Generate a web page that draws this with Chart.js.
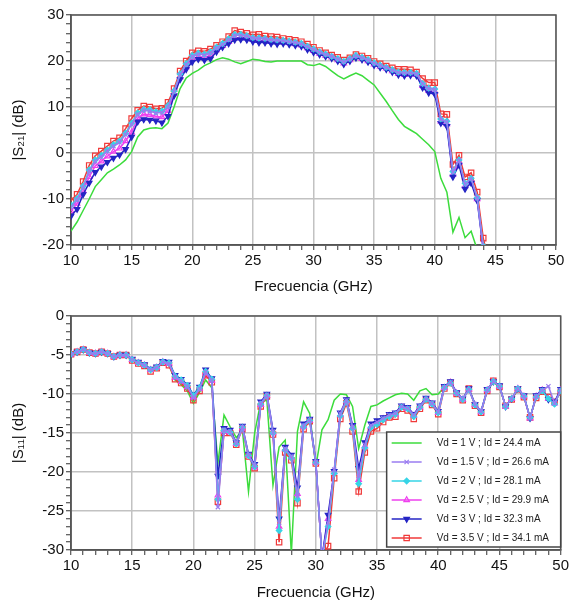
<!DOCTYPE html>
<html>
<head>
<meta charset="utf-8">
<script src="https://cdn.jsdelivr.net/npm/chart.js@4.4.0/dist/chart.umd.min.js"></script>
<style>
  body { margin: 0; background: #fff; }
  #wrap { position: relative; width: 571px; height: 606px; }
  #s21 { position: absolute; left: 0; top: 0; }
  #s11 { position: absolute; left: 0; top: 300px; }
</style>
</head>
<body>
<div id="wrap">
  <canvas id="s21" width="571" height="300"></canvas>
  <canvas id="s11" width="571" height="306"></canvas>
</div>
<script>
// --- datos |S21| (dB), 10 .. 44.5 GHz
const freqS21 = [10,10.5,11,11.5,12,12.5,13,13.5,14,14.5,15,15.5,16,16.5,17,17.5,18,18.5,19,19.5,
  20,20.5,21,21.5,22,22.5,23,23.5,24,24.5,25,25.5,26,26.5,27,27.5,28,28.5,29,29.5,
  30,30.5,31,31.5,32,32.5,33,33.5,34,34.5,35,35.5,36,36.5,37,37.5,38,38.5,39,39.5,
  40,40.5,41,41.5,42,42.5,43,43.5,44,44.5];

const s21_1V = [-17.0,-15.0,-12.5,-10.0,-7.3,-5.8,-4.3,-3.5,-2.6,-1.5,
  0.3,3.5,5.0,5.4,5.5,5.3,6.5,10.0,14.0,16.3,
  17.3,18.0,19.0,19.6,20.3,20.7,20.4,19.8,19.4,19.9,
  20.4,20.2,19.9,19.8,20.0,20.0,20.0,20.0,20.0,19.2,
  19.0,19.4,18.8,17.8,16.8,16.1,16.8,17.4,16.8,15.8,
  14.8,13.0,11.2,9.2,7.3,5.8,5.0,4.2,3.0,1.8,
  0.3,-5.5,-8.5,-17.2,-14.0,-18.4,-17.0,-21.0,-25,-28];
const s21_15V = [-11.8,-10.2,-7.5,-4.0,-1.8,-0.8,0.4,1.5,2.3,4.0,
  6.2,8.4,9.3,9.1,8.7,8.8,10.0,13.3,17.0,19.2,
  21.0,21.5,21.3,21.8,22.8,23.6,24.6,25.6,25.6,25.4,
  25.0,24.9,24.8,24.6,24.5,24.4,24.2,24.0,23.7,23.1,
  22.5,21.9,21.4,21.0,20.4,19.8,20.4,21.1,20.7,20.2,
  19.5,19.0,18.6,18.0,17.5,17.4,17.4,17.2,15.0,14.0,
  13.8,7.3,6.8,-4.2,-1.6,-6.8,-5.6,-9.8,-20.5,-25];
const s21_2V = [-11.4,-9.9,-7.2,-3.7,-1.5,-0.5,0.7,1.8,2.6,4.3,
  6.5,8.7,9.5,9.4,9.0,9.1,10.3,13.5,17.2,19.4,
  21.2,21.7,21.5,22.0,23.0,23.8,24.8,25.8,25.8,25.5,
  25.1,25.0,24.9,24.7,24.6,24.5,24.3,24.1,23.8,23.2,
  22.6,22.0,21.5,21.0,20.5,19.9,20.5,21.2,20.8,20.3,
  19.6,19.1,18.6,18.1,17.6,17.5,17.5,17.3,15.1,14.1,
  13.9,7.4,6.9,-4.0,-1.5,-6.6,-5.5,-9.7,-20.2,-25];
const s21_25V = [-12.6,-11.0,-8.2,-5.2,-2.8,-1.8,-0.7,0.3,1.0,2.6,
  4.5,7.6,8.4,8.3,8.0,7.8,9.2,12.9,16.5,18.7,
  20.4,21.0,20.8,21.2,22.4,23.3,24.2,25.0,25.1,25.0,
  24.6,24.4,24.4,24.2,24.1,24.1,23.9,23.7,23.4,22.8,
  22.2,21.6,21.2,20.8,20.2,19.5,20.2,20.9,20.5,20.0,
  19.3,18.8,18.4,17.8,17.2,17.0,17.1,17.0,14.6,13.5,
  13.3,6.9,6.3,-4.7,-2.0,-7.2,-6.0,-10.0,-20.8,-25.5];
const s21_3V = [-13.7,-12.2,-9.0,-6.5,-4.2,-3.0,-2.0,-1.1,-0.4,0.8,
  3.5,6.8,7.3,7.2,7.0,6.6,8.0,12.5,16.0,18.2,
  19.8,20.4,20.2,20.5,22.0,23.0,23.8,24.6,24.7,24.6,
  24.2,24.0,24.0,23.8,23.7,23.8,23.6,23.4,23.2,22.5,
  21.9,21.4,21.0,20.6,20.0,19.3,20.0,20.7,20.3,19.8,
  19.1,18.6,18.2,17.6,17.0,16.8,16.9,16.8,14.2,13.1,
  12.8,6.5,5.8,-5.2,-2.6,-7.8,-6.5,-10.3,-21.0,-26];
const s21_35V = [-10.4,-9.0,-6.2,-2.7,-0.6,0.4,1.5,2.6,3.3,5.3,
  7.5,9.3,10.2,10.0,9.6,9.7,11.0,14.0,17.8,20.0,
  21.8,22.2,22.1,22.6,23.4,24.2,25.3,26.6,26.3,26.0,
  25.7,25.8,25.4,25.3,25.2,24.9,24.7,24.5,24.2,23.7,
  23.0,22.3,21.8,21.3,20.8,20.2,20.7,21.4,21.1,20.6,
  19.9,19.4,18.9,18.5,18.2,18.2,18.1,17.6,16.2,15.3,
  15.3,8.5,8.4,-2.5,-0.5,-5.2,-4.3,-8.5,-18.5,-24];

// --- datos |S11| (dB), 10 .. 50 GHz
const freqS11 = [10,10.5,11,11.5,12,12.5,13,13.5,14,14.5,15,15.5,16,16.5,17,17.5,18,18.5,19,19.5,
  20,20.5,21,21.5,22,22.5,23,23.5,24,24.5,25,25.5,26,26.5,27,27.5,28,28.5,29,29.5,
  30,30.5,31,31.5,32,32.5,33,33.5,34,34.5,35,35.5,36,36.5,37,37.5,38,38.5,39,39.5,
  40,40.5,41,41.5,42,42.5,43,43.5,44,44.5,45,45.5,46,46.5,47,47.5,48,48.5,49,49.5,50];

const s11_1V = [-4.9,-4.6,-4.3,-4.7,-4.8,-4.6,-4.8,-5.2,-5.0,-5.0,
  -5.7,-6.1,-6.4,-7.0,-6.7,-6.0,-6.3,-8.2,-8.8,-9.6,
  -11.2,-9.8,-8.2,-9.2,-18.9,-12.7,-14.2,-15.6,-14.6,-22.5,
  -15.0,-11.0,-10.8,-21.7,-16.8,-15.9,-30.5,-14.8,-11.0,-12.5,
  -19.3,-14.6,-13.3,-10.8,-10.0,-10.1,-11.6,-17.0,-14.0,-11.6,
  -11.4,-10.9,-10.5,-10.1,-9.9,-10.0,-10.8,-9.6,-9.3,-10.1,
  -10.0,-9.1,-8.6,-9.9,-10.7,-9.3,-11.3,-12.2,-9.6,-8.5,
  -9.1,-11.5,-10.7,-9.4,-10.4,-13.0,-10.4,-9.6,-10.6,-11.1,
  -9.6];
const s11_15V = [-4.9,-4.6,-4.3,-4.7,-4.8,-4.6,-4.8,-5.2,-5.0,-5.0,
  -5.6,-6.0,-6.3,-6.9,-6.6,-5.9,-6.1,-7.8,-8.3,-9.0,
  -10.5,-9.4,-7.2,-8.2,-24.5,-14.6,-14.8,-16.3,-14.2,-17.8,
  -19.2,-11.2,-10.1,-14.8,-26.5,-17.0,-18.0,-23.0,-14.0,-13.3,
  -18.7,-31.0,-26.5,-19.7,-12.5,-10.8,-14.2,-20.5,-16.5,-14.0,
  -13.6,-13.1,-12.7,-12.5,-11.6,-11.8,-12.7,-11.6,-10.6,-11.2,
  -12.3,-9.1,-8.5,-9.9,-10.6,-9.4,-11.3,-12.2,-9.5,-8.4,
  -9.0,-11.6,-10.6,-9.3,-10.3,-13.1,-10.3,-9.5,-9.0,-11.2,
  -9.5];
const s11_2V = [-4.9,-4.6,-4.3,-4.7,-4.8,-4.6,-4.8,-5.2,-5.0,-5.0,
  -5.6,-6.0,-6.3,-6.9,-6.6,-5.9,-6.0,-7.7,-8.2,-8.9,
  -10.2,-9.2,-7.1,-8.1,-23.5,-14.7,-14.9,-16.4,-14.3,-17.9,
  -19.3,-11.3,-10.2,-15.0,-27.5,-17.2,-18.2,-23.5,-14.2,-13.4,
  -18.8,-31.0,-27.0,-20.2,-12.8,-11.0,-14.4,-21.5,-16.9,-14.3,
  -13.9,-13.3,-12.9,-12.6,-11.7,-11.9,-12.9,-11.7,-10.7,-11.3,
  -12.4,-9.2,-8.6,-9.9,-10.7,-9.4,-11.4,-12.3,-9.5,-8.4,
  -9.0,-11.6,-10.6,-9.3,-10.3,-13.0,-10.4,-9.6,-10.6,-11.3,
  -9.6];
const s11_25V = [-4.9,-4.6,-4.3,-4.7,-4.8,-4.6,-4.8,-5.2,-5.0,-5.0,
  -5.6,-6.0,-6.3,-6.9,-6.6,-5.9,-6.1,-7.9,-8.4,-9.1,
  -10.4,-9.3,-7.3,-8.3,-23.0,-14.8,-14.9,-16.4,-14.4,-17.9,
  -19.4,-11.4,-10.2,-15.0,-27.0,-17.1,-18.1,-22.8,-14.2,-13.4,
  -18.8,-31.0,-26.0,-20.0,-12.7,-10.9,-14.3,-21.0,-16.7,-14.2,
  -13.8,-13.2,-12.8,-12.6,-11.7,-11.9,-12.8,-11.7,-10.7,-11.3,
  -12.4,-9.2,-8.5,-9.9,-10.7,-9.4,-11.4,-12.3,-9.5,-8.4,
  -9.0,-11.6,-10.6,-9.3,-10.3,-13.1,-10.3,-9.5,-10.6,-11.2,
  -9.5];
const s11_3V = [-4.9,-4.6,-4.3,-4.7,-4.8,-4.6,-4.8,-5.2,-5.0,-5.0,
  -5.5,-5.9,-6.2,-6.8,-6.5,-5.8,-5.9,-7.6,-8.1,-8.8,
  -10.1,-9.1,-6.9,-8.0,-20.5,-14.4,-14.6,-16.2,-14.1,-17.7,
  -19.0,-11.0,-10.0,-14.6,-26.0,-16.8,-17.8,-22.0,-13.8,-13.2,
  -18.6,-31.0,-25.5,-19.9,-12.4,-10.7,-14.0,-19.5,-16.2,-13.8,
  -13.4,-13.0,-12.6,-12.4,-11.5,-11.7,-12.6,-11.5,-10.5,-11.1,
  -12.2,-9.0,-8.4,-9.8,-10.6,-9.3,-11.3,-12.2,-9.4,-8.4,
  -8.9,-11.6,-10.6,-9.3,-10.2,-13.1,-10.2,-9.4,-10.7,-11.0,
  -9.4];
const s11_35V = [-4.9,-4.6,-4.3,-4.7,-4.8,-4.6,-4.8,-5.2,-5.0,-5.0,
  -5.7,-6.1,-6.4,-7.1,-6.7,-6.0,-6.3,-8.1,-8.6,-9.3,
  -10.8,-9.6,-7.6,-8.5,-23.8,-15.0,-15.0,-16.5,-14.5,-18.0,
  -19.5,-11.6,-10.3,-15.2,-29.0,-17.5,-18.5,-24.0,-14.5,-13.5,
  -18.9,-31.0,-29.5,-20.8,-13.2,-11.2,-14.8,-22.5,-17.5,-14.8,
  -14.4,-13.6,-13.0,-12.9,-11.9,-12.1,-13.2,-11.9,-10.8,-11.4,
  -12.6,-9.3,-8.6,-10.0,-10.8,-9.3,-11.5,-12.4,-9.6,-8.3,
  -9.1,-11.5,-10.7,-9.4,-10.4,-13.0,-10.5,-9.7,-10.4,-11.0,
  -9.8];

const etiquetas = ["Vd = 1 V ; Id = 24.4 mA", "Vd = 1.5 V ; Id = 26.6 mA", "Vd = 2 V ; Id = 28.1 mA",
  "Vd = 2.5 V ; Id = 29.9 mA", "Vd = 3 V ; Id = 32.3 mA", "Vd = 3.5 V ; Id = 34.1 mA"];

Chart.defaults.font.family = "'Liberation Sans', Arial, sans-serif";
Chart.defaults.color = '#111';

// estilo de cada serie (mismo orden que etiquetas)
const estilos = [
  {color: '#3cdc3c', pointStyle: false, radius: 0, fill: '#3cdc3c', rot: 0, order: 5},
  {color: '#9a7cf0', pointStyle: 'crossRot', radius: 3, fill: '#9a7cf0', rot: 0, order: 0},
  {color: '#36d4e6', pointStyle: 'rectRot', radius: 2.8, fill: '#36d4e6', rot: 0, order: 1},
  {color: '#ee40ee', pointStyle: 'triangle', radius: 3.2, fill: 'rgba(255,255,255,0)', rot: 0, order: 3},
  {color: '#2424c4', pointStyle: 'triangle', radius: 3.2, fill: '#2424c4', rot: 180, order: 2},
  {color: '#f03a3a', pointStyle: 'rect', radius: 3.8, fill: 'rgba(255,255,255,0)', rot: 0, order: 4}
];

function puntos(xs, ys) {
  return ys.map((v, i) => ({x: xs[i], y: v}));
}

function series(xs, lista) {
  return lista.map((ys, k) => {
    const e = estilos[k];
    return {
      label: etiquetas[k],
      data: puntos(xs, ys),
      borderColor: e.color,
      backgroundColor: e.fill,
      borderWidth: 1.5,
      pointStyle: e.pointStyle,
      pointRadius: e.radius,
      pointRotation: e.rot,
      pointBorderWidth: 1.2,
      pointBorderColor: e.color,
      pointBackgroundColor: e.fill,
      tension: 0,
      clip: 0,
      order: e.order
    };
  });
}

function esMayor(v, paso) {
  const r = Math.abs(v % paso);
  return r < 1e-6 || Math.abs(r - paso) < 1e-6;
}

function eje(min, max, paso, mayor, titulo, horizontal, tam) {
  return {
    type: 'linear', min: min, max: max,
    border: {display: true, color: '#555', width: 1.5},
    grid: {
      color: c => (c.tick && esMayor(c.tick.value, mayor)) ? '#c2c2c2' : 'rgba(0,0,0,0)',
      lineWidth: 1.5,
      drawTicks: true,
      tickLength: 5,
      tickColor: '#333',
      tickWidth: 1
    },
    ticks: {
      stepSize: paso, autoSkip: false, maxRotation: 0, minRotation: 0,
      font: {size: 15}, color: '#111', padding: 2,
      callback: v => esMayor(v, mayor) ? String(v) : ''
    },
    title: {display: true, text: titulo, font: {size: 15}, color: '#111',
      padding: horizontal ? {top: 0, bottom: 4} : {top: 10, bottom: 0}},
    afterFit: s => { if (horizontal) s.height = tam; else s.width = tam; }
  };
}

// marco alrededor del area de trazado
const marco = {
  id: 'marco',
  beforeDatasetsDraw(chart) {
    const a = chart.chartArea, ctx = chart.ctx;
    ctx.save();
    ctx.strokeStyle = '#555';
    ctx.lineWidth = 1.5;
    ctx.strokeRect(a.left, a.top, a.right - a.left, a.bottom - a.top);
    ctx.restore();
  }
};

// leyenda en caja, abajo a la derecha
const leyendaCaja = {
  id: 'leyendaCaja',
  afterDraw(chart) {
    const a = chart.chartArea, ctx = chart.ctx;
    const w = 174, h = 115;
    const x0 = a.right - w, y0 = a.bottom - 3 - h;
    ctx.save();
    ctx.fillStyle = '#fff';
    ctx.fillRect(x0, y0, w, h);
    ctx.strokeStyle = '#444';
    ctx.lineWidth = 1.5;
    ctx.strokeRect(x0, y0, w, h);
    ctx.font = "10px 'Liberation Sans', Arial, sans-serif";
    ctx.textBaseline = 'middle';
    chart.data.datasets.forEach((ds, i) => {
      const e = estilos[i];
      const y = y0 + 11 + i * 19;
      ctx.strokeStyle = e.color;
      ctx.lineWidth = 1.5;
      ctx.beginPath();
      ctx.moveTo(x0 + 5, y);
      ctx.lineTo(x0 + 35, y);
      ctx.stroke();
      if (e.pointStyle) {
        ctx.fillStyle = e.fill;
        ctx.lineWidth = 1.2;
        Chart.helpers.drawPoint(ctx, {pointStyle: e.pointStyle, rotation: e.rot, radius: e.radius, borderWidth: 1.2}, x0 + 20, y);
      }
      ctx.fillStyle = '#222';
      ctx.fillText(ds.label, x0 + 50, y);
    });
    ctx.restore();
  }
};

new Chart(document.getElementById('s21'), {
  type: 'line',
  data: {datasets: series(freqS21, [s21_1V, s21_15V, s21_2V, s21_25V, s21_3V, s21_35V])},
  options: {
    responsive: false, animation: false, devicePixelRatio: 1,
    layout: {padding: {top: 15, right: 15, left: 0, bottom: 0}},
    plugins: {legend: {display: false}, tooltip: {enabled: false}},
    scales: {
      x: eje(10, 50, 1, 5, 'Frecuencia (GHz)', true, 55),
      y: eje(-20, 30, 2, 10, '|S\u2082\u2081| (dB)', false, 71)
    }
  },
  plugins: [marco]
});

new Chart(document.getElementById('s11'), {
  type: 'line',
  data: {datasets: series(freqS11, [s11_1V, s11_15V, s11_2V, s11_25V, s11_3V, s11_35V])},
  options: {
    responsive: false, animation: false, devicePixelRatio: 1,
    layout: {padding: {top: 16, right: 7, left: 0, bottom: 0}},
    plugins: {legend: {display: false}, tooltip: {enabled: false}},
    scales: {
      x: eje(10, 50, 1, 5, 'Frecuencia (GHz)', true, 56),
      y: eje(-30, 0, 1, 5, '|S\u2081\u2081| (dB)', false, 71)
    }
  },
  plugins: [marco, leyendaCaja]
});
</script>
</body>
</html>
